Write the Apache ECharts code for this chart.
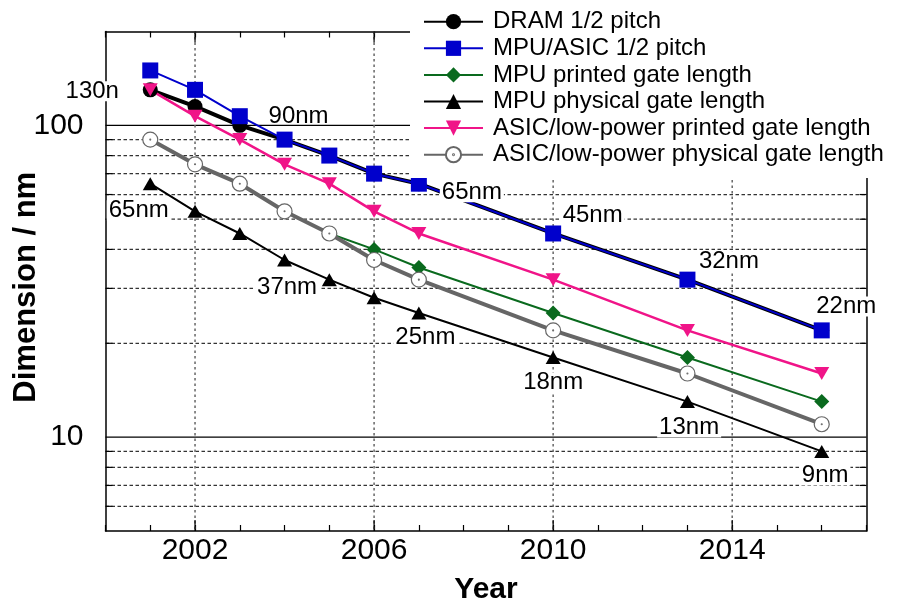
<!DOCTYPE html>
<html>
<head>
<meta charset="utf-8">
<script src="https://cdn.jsdelivr.net/npm/echarts@6/dist/echarts.min.js"></script>
<style>
  html, body { margin: 0; padding: 0; background: #fff; }
  #chart { width: 901px; height: 602px; }
</style>
</head>
<body>
<div id="chart"></div>
<script>
// Roadmap feature sizes (nm) per year
const years            = [2001, 2002, 2003, 2004, 2005, 2006, 2007, 2010, 2013, 2016];
const dramHalfPitch    = [130, 115, 100, 90, 80, 70, 65, 45, 32, 22];
const mpuAsicHalfPitch = [150, 130, 107, 90, 80, 70, 65, 45, 32, 22];
const mpuPrintedGate   = [90, 75, 65, 53, 45, 40, 35, 25, 18, 13];
const mpuPhysicalGate  = [65, 53, 45, 37, 32, 28, 25, 18, 13, 9];
const asicPrintedGate  = [130, 107, 90, 75, 65, 53, 45, 32, 22, 16];
const asicPhysicalGate = [90, 75, 65, 53, 45, 37, 32, 22, 16, 11];

const seriesNames = [
  'DRAM 1/2 pitch',
  'MPU/ASIC 1/2 pitch',
  'MPU printed gate length',
  'MPU physical gate length',
  'ASIC/low-power printed gate length',
  'ASIC/low-power physical gate length'
];
const seriesValues = [dramHalfPitch, mpuAsicHalfPitch, mpuPrintedGate, mpuPhysicalGate, asicPrintedGate, asicPhysicalGate];

// Axis ticks and grid
const xTickLabels = [2002, 2006, 2010, 2014];
const yTickLabels = [10, 100];
const yMinorGrid  = [6, 7, 8, 9, 20, 30, 40, 50, 60, 70, 80, 90];
const yMajorGrid  = [10, 100];

// Node annotations: text, year, curve they sit beside
const nodeLabelText  = ['130n', '90nm', '65nm', '65nm', '45nm', '32nm', '22nm', '37nm', '25nm', '18nm', '13nm', '9nm'];
const nodeLabelYear  = [2001, 2004, 2001, 2007, 2010, 2013, 2016, 2004, 2007, 2010, 2013, 2016];
const nodeLabelCurve = [0, 0, 3, 1, 1, 1, 1, 3, 3, 3, 3, 3];

// pixel offsets of each annotation from its point; the 90nm tag sits on the 100 line without a backing
const nodeLabelOffsets = [
  [-58, 1.5], [14, -23], [-11.5, 26.5], [53, 8.5], [39.5, -18.5], [41.5, -18.5],
  [24.5, -24], [2.5, 27.5], [6.5, 24], [0, 25.2], [1.7, 26], [3.4, 24.2]
];
const unbackedLabels = [1];

const FONT = "'Liberation Sans', Arial, Helvetica, sans-serif";

const seriesStyles = [
  { color: '#000000', width: 4,   symbol: 'circle', size: 15, fill: '#000000' },
  { color: '#0000cc', width: 2,   symbol: 'rect', size: 16, fill: '#0000cc' },
  { color: '#0a6a1e', width: 2,   symbol: 'diamond', size: 15, fill: '#0a6a1e' },
  { color: '#000000', width: 2,   symbol: 'triangle', size: [15, 13], fill: '#000000' },
  { color: '#f01488', width: 2.5, symbol: 'path://M0 0L10 0L5 8.5Z', size: [15, 13], fill: '#f01488' },
  { color: '#666666', width: 4,
    symbol: 'path://M10 0A10 10 0 1 1 10 20A10 10 0 1 1 10 0ZM10 9.4A0.6 0.6 0 1 1 10 10.6A0.6 0.6 0 1 1 10 9.4Z',
    size: 15, fill: '#ffffff', border: '#666666' }
];

const lineSeries = seriesNames.map(function (name, i) {
  const st = seriesStyles[i];
  return {
    name: name,
    type: 'line',
    z: 2,
    data: years.map(function (y, k) { return [y, seriesValues[i][k]]; }),
    symbol: st.symbol,
    symbolSize: st.size,
    showAllSymbol: true,
    lineStyle: { color: st.color, width: st.width },
    itemStyle: st.border
      ? { color: st.fill, borderColor: st.border, borderWidth: 1.2 }
      : { color: st.fill, borderWidth: 0 },
    emphasis: { disabled: true }
  };
});

// dashed/solid horizontal grid with short ticks on both y axes
const hGridSeries = {
  type: 'custom',
  z: 1,
  silent: true,
  data: yMinorGrid.map(function (v) { return [2000, v, 0]; })
    .concat(yMajorGrid.map(function (v) { return [2000, v, 1]; })),
  encode: { x: 0, y: 1 },
  renderItem: function (params, api) {
    const cs = params.coordSys;
    const y = api.coord([api.value(0), api.value(1)])[1];
    const major = api.value(2) === 1;
    const x0 = cs.x, x1 = cs.x + cs.width;
    const children = [{
      type: 'line',
      shape: { x1: x0, y1: y, x2: x1, y2: y },
      style: major
        ? { stroke: '#000', lineWidth: 1.3 }
        : { stroke: '#333', lineWidth: 1.2, lineDash: [3.5, 2.5] }
    }];
    if (!major) {
      children.push({ type: 'line', shape: { x1: x0, y1: y, x2: x0 + 7, y2: y }, style: { stroke: '#000', lineWidth: 1.2 } });
      children.push({ type: 'line', shape: { x1: x1 - 7, y1: y, x2: x1, y2: y }, style: { stroke: '#000', lineWidth: 1.2 } });
    }
    return { type: 'group', children: children };
  }
};

// dotted vertical grid at labelled years, with longer ticks
const vGridSeries = {
  type: 'custom',
  z: 1,
  silent: true,
  data: xTickLabels.map(function (yr) { return [yr, 100]; }),
  encode: { x: 0, y: 1 },
  renderItem: function (params, api) {
    const cs = params.coordSys;
    const x = api.coord([api.value(0), api.value(1)])[0];
    const y0 = cs.y, y1 = cs.y + cs.height;
    return {
      type: 'group',
      children: [
        { type: 'line', shape: { x1: x, y1: y0, x2: x, y2: y1 }, style: { stroke: '#666', lineWidth: 1.5, lineDash: [2.5, 3] } },
        { type: 'line', shape: { x1: x, y1: y1 - 11, x2: x, y2: y1 }, style: { stroke: '#000', lineWidth: 1.2 } },
        { type: 'line', shape: { x1: x, y1: y0, x2: x, y2: y0 + 11 }, style: { stroke: '#000', lineWidth: 1.2 } }
      ]
    };
  }
};

// node annotations, mostly on a white backing
const labelSeries = {
  type: 'custom',
  z: 3,
  silent: true,
  clip: false,
  data: nodeLabelText.map(function (t, i) {
    const curve = seriesValues[nodeLabelCurve[i]];
    return [nodeLabelYear[i], curve[years.indexOf(nodeLabelYear[i])], i];
  }),
  encode: { x: 0, y: 1 },
  renderItem: function (params, api) {
    const i = api.value(2);
    const p = api.coord([api.value(0), api.value(1)]);
    const off = nodeLabelOffsets[i];
    const backed = unbackedLabels.indexOf(i) < 0;
    return {
      type: 'text',
      x: p[0] + off[0],
      y: p[1] + off[1],
      style: {
        text: nodeLabelText[i],
        font: '24px ' + FONT,
        fill: '#000000',
        align: 'center',
        verticalAlign: 'middle',
        backgroundColor: backed ? '#ffffff' : null,
        padding: [0, 2],
        lineHeight: 20
      }
    };
  }
};

const chart = echarts.init(document.getElementById('chart'), null, { renderer: 'canvas' });

chart.setOption({
  animation: false,
  backgroundColor: '#fff',
  textStyle: { fontFamily: FONT },
  grid: { left: 105.5, right: 34.5, top: 31.5, bottom: 71, containLabel: false, outerBoundsMode: 'none' },
  legend: {
    data: seriesNames,
    orient: 'vertical',
    left: 410,
    top: 0,
    padding: [8.4, 10, 10, 13],
    backgroundColor: '#fff',
    itemGap: 0,
    itemWidth: 59,
    itemHeight: 19,
    selectedMode: false,
    textStyle: { fontSize: 24, fontFamily: FONT, color: '#000', lineHeight: 26.6, padding: [0, 0, 0, 5] }
  },
  xAxis: [
    {
      type: 'value',
      position: 'bottom',
      min: 2000,
      max: 2017,
      interval: 1,
      axisLine: { show: true, lineStyle: { color: '#000', width: 1.5 } },
      axisTick: { show: true, inside: true, length: 6, lineStyle: { color: '#000', width: 1.2 } },
      splitLine: { show: false },
      axisLabel: {
        fontSize: 30,
        fontFamily: FONT,
        color: '#000',
        margin: 5,
        formatter: function (v) { return xTickLabels.indexOf(v) >= 0 ? String(v) : ''; }
      },
      name: 'Year',
      nameLocation: 'middle',
      nameGap: 44,
      nameMoveOverlap: false,
      nameTextStyle: { fontSize: 30, fontWeight: 'bold', fontFamily: FONT, color: '#000' }
    },
    {
      type: 'value',
      position: 'top',
      min: 2000,
      max: 2017,
      interval: 1,
      axisLine: { show: true, lineStyle: { color: '#000', width: 1.5 } },
      axisTick: { show: true, inside: true, length: 6, lineStyle: { color: '#000', width: 1.2 } },
      splitLine: { show: false },
      axisLabel: { show: false }
    }
  ],
  yAxis: [
    {
      type: 'log',
      logBase: 10,
      position: 'left',
      min: 5,
      max: 200,
      axisLine: { show: true, lineStyle: { color: '#000', width: 1.5 } },
      axisTick: { show: false },
      splitLine: { show: false },
      minorTick: { show: false },
      axisLabel: {
        fontSize: 30,
        fontFamily: FONT,
        color: '#000',
        margin: 22,
        formatter: function (v) {
          const r = Math.round(v);
          return (Math.abs(v - r) < 1e-6 && yTickLabels.indexOf(r) >= 0) ? String(r) : '';
        }
      },
      name: 'Dimension / nm',
      nameLocation: 'middle',
      nameGap: 64,
      nameMoveOverlap: false,
      nameRotate: 90,
      nameTextStyle: { fontSize: 31, fontWeight: 'bold', fontFamily: FONT, color: '#000', padding: [0, 12, 0, 0] }
    },
    {
      type: 'log',
      logBase: 10,
      position: 'right',
      min: 5,
      max: 200,
      axisLine: { show: true, lineStyle: { color: '#000', width: 1.5 } },
      axisTick: { show: false },
      splitLine: { show: false },
      axisLabel: { show: false }
    }
  ],
  series: [hGridSeries, vGridSeries].concat(lineSeries).concat([labelSeries])
});
</script>
</body>
</html>
